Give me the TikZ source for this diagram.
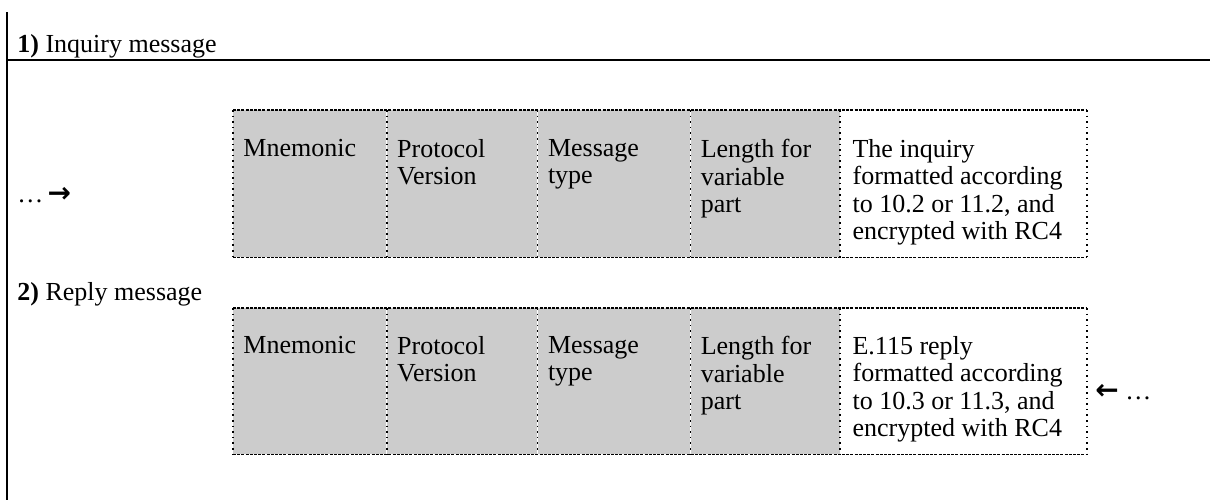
\documentclass[tikz,border=0pt]{standalone}
\usepackage{fontspec}
\setmainfont{Liberation Serif}
\newfontfamily\arrowfont{DejaVu Sans}

\definecolor{cellgray}{HTML}{CCCCCC}

\tikzset{
	rule/.style={line width=0.9pt},
	cell/.style={fill=cellgray, inner sep=0pt, anchor=north west},
	rowA/.style={minimum height=73.5pt},
	rowB/.style={minimum height=73pt},
	celltext/.style={anchor=north west, align=left, inner sep=0pt, font=\fontsize{13}{13.75}\selectfont},
	heading/.style={anchor=base west, inner sep=0pt, font=\fontsize{13}{13.75}\selectfont},
	hborder/.style={line width=0.6pt, dash pattern=on 1.5pt off 0.6pt},
	vborder/.style={line width=0.8pt, dotted},
}

\newcommand{\bigarrow}[1]{{\arrowfont\bfseries\fontsize{14}{14}\selectfont #1}}

\begin{document}
\begin{tikzpicture}[x=0.5pt,y=-0.5pt]
	\useasboundingbox (0,0) rectangle (1210,500);

	% frame
	\draw[rule] (7,12) -- (7,500);
	\draw[rule] (7,60) -- (1210,60);

	\node[heading] (inq) at (17,52) {\textbf{1)} Inquiry message};
	\node[heading] (rep) at (17,300) {\textbf{2)} Reply message};

	% inquiry message
	\node[cell, rowA, minimum width=76.5pt] (a1) at (233,110) {};
	\node[cell, rowA, minimum width=75pt] (a2) at (a1.north east) {};
	\node[cell, rowA, minimum width=76pt] (a3) at (a2.north east) {};
	\node[cell, rowA, minimum width=74.5pt] (a4) at (a3.north east) {};
	\node[cell, rowA, minimum width=123pt, fill=white] (a5) at (a4.north east) {};

	\node[celltext] (a1t) at ([shift={(10,29)}]a1.north west) {Mnemonic};
	\node[celltext] (a2t) at ([shift={(10,29)}]a2.north west) {Protocol\\Version};
	\node[celltext] (a3t) at ([shift={(10,29)}]a3.north west) {Message\\type};
	\node[celltext] (a4t) at ([shift={(10,29)}]a4.north west) {Length for\\variable\\part};
	\node[celltext] (a5t) at ([shift={(12,29)}]a5.north west) {The inquiry\\formatted according\\to 10.2 or 11.2, and\\encrypted with RC4};

	\draw[hborder] (a1.north west) -- (a5.north east);
	\draw[hborder] (a1.south west) -- (a5.south east);
	\foreach \c in {a1,a2,a3,a4,a5}
		\draw[vborder] (\c.north west) -- (\c.south west);
	\draw[vborder] (a5.north east) -- (a5.south east);

	\node[heading] (inarr) at (17,202) {…\,\bigarrow{→}};

	% reply message
	\node[cell, rowB, minimum width=76.5pt] (b1) at (233,308) {};
	\node[cell, rowB, minimum width=75pt] (b2) at (b1.north east) {};
	\node[cell, rowB, minimum width=76pt] (b3) at (b2.north east) {};
	\node[cell, rowB, minimum width=74.5pt] (b4) at (b3.north east) {};
	\node[cell, rowB, minimum width=123pt, fill=white] (b5) at (b4.north east) {};

	\node[celltext] (b1t) at ([shift={(10,28)}]b1.north west) {Mnemonic};
	\node[celltext] (b2t) at ([shift={(10,28)}]b2.north west) {Protocol\\Version};
	\node[celltext] (b3t) at ([shift={(10,28)}]b3.north west) {Message\\type};
	\node[celltext] (b4t) at ([shift={(10,28)}]b4.north west) {Length for\\variable\\part};
	\node[celltext] (b5t) at ([shift={(12,28)}]b5.north west) {E.115 reply\\formatted according\\to 10.3 or 11.3, and\\encrypted with RC4};

	\draw[hborder] (b1.north west) -- (b5.north east);
	\draw[hborder] (b1.south west) -- (b5.south east);
	\foreach \c in {b1,b2,b3,b4,b5}
		\draw[vborder] (\c.north west) -- (\c.south west);
	\draw[vborder] (b5.north east) -- (b5.south east);

	\node[heading] (reparr) at (1095,399) {\bigarrow{←} …};
\end{tikzpicture}
\end{document}
